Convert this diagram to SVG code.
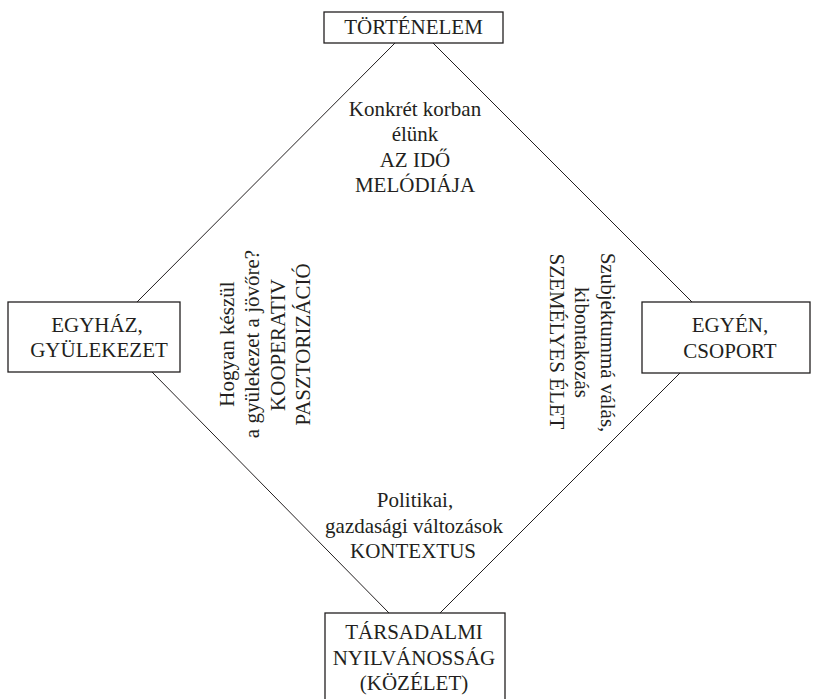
<svg xmlns="http://www.w3.org/2000/svg" width="817" height="699" viewBox="0 0 817 699">
<style>
.box{fill:#fff;stroke:#231f20;stroke-width:1.3}
.ln{stroke:#231f20;stroke-width:1;fill:none}
text{font-family:"Liberation Serif","Times New Roman",serif;font-size:21px;fill:#231f20;text-anchor:middle}
</style>
<rect width="817" height="699" fill="#fff"/>
<g id="connectors">
<line class="ln" x1="395" y1="43" x2="137" y2="302"/>
<line class="ln" x1="433" y1="43" x2="692" y2="302"/>
<line class="ln" x1="152" y1="372" x2="389" y2="613"/>
<line class="ln" x1="680" y1="373" x2="440" y2="613"/>
</g>
<g id="tortenelem">
<rect class="box" x="324" y="12" width="179" height="31"/>
<text x="413.5" y="34">TÖRTÉNELEM</text>
</g>
<g id="egyhaz">
<rect class="box" x="8" y="302" width="172" height="70"/>
<text x="97" y="331.5">EGYHÁZ,</text>
<text x="99" y="357">GYÜLEKEZET</text>
</g>
<g id="egyen">
<rect class="box" x="642" y="302" width="168" height="71"/>
<text x="730" y="332">EGYÉN,</text>
<text x="730" y="357.5">CSOPORT</text>
</g>
<g id="tarsadalmi">
<rect class="box" x="325" y="613" width="180" height="100"/>
<text x="414" y="639">TÁRSADALMI</text>
<text x="414" y="664.5">NYILVÁNOSSÁG</text>
<text x="414" y="690">(KÖZÉLET)</text>
</g>
<g id="label-top">
<text x="415" y="115.5">Konkrét korban</text>
<text x="415" y="141">élünk</text>
<text x="415" y="166.5">AZ IDŐ</text>
<text x="415" y="192">MELÓDIÁJA</text>
</g>
<g id="label-bottom">
<text x="415" y="507">Politikai,</text>
<text x="414" y="532.5">gazdasági változások</text>
<text x="413" y="558">KONTEXTUS</text>
</g>
<g id="label-left">
<text transform="translate(233.5,344) rotate(-90)">Hogyan készül</text>
<text transform="translate(259,344) rotate(-90)">a gyülekezet a jövőre?</text>
<text transform="translate(284.5,345) rotate(-90)">KOOPERATIV</text>
<text transform="translate(310,344.5) rotate(-90)">PASZTORIZÁCIÓ</text>
</g>
<g id="label-right">
<text transform="translate(600.5,342.5) rotate(90)">Szubjektummá válás,</text>
<text transform="translate(575,342.5) rotate(90)">kibontakozás</text>
<text transform="translate(549.5,341.5) rotate(90)">SZEMÉLYES ÉLET</text>
</g>
</svg>
